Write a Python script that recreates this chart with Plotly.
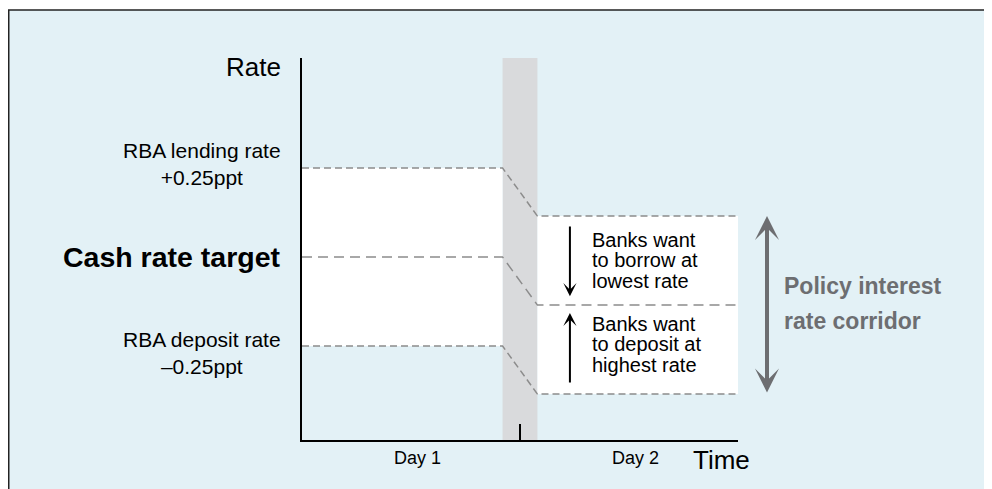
import plotly.graph_objects as go

# ---- data (schematic units: ppt relative to day-1 cash rate target) ----
level_names = ["RBA lending rate", "Cash rate target", "RBA deposit rate"]
day1_levels = [0.25, 0.0, -0.25]
day2_levels = [0.115, -0.135, -0.385]
time_points = [0.0, 0.92, 1.08, 2.0]      # day1 start, band start, band end, day2 end
day_boundary = [1.0]
day_label_x = [0.53, 1.53]
day_labels = ["Day 1", "Day 2"]
y_range = [-0.514, 0.559]
x_range = [0.0, 2.0]

# ---- style ----
BG = "#e3f1f6"
BAND = "#d9dadc"
DASH = "#8c8c8c"
GREYTXT = "#6d6e71"
FONT = "Liberation Sans, Arial, Helvetica, sans-serif"
W, H = 984, 481
ML, MR, MT, MB = 294, 254, 50, 49
PW, PH = W - ML - MR, H - MT - MB


def px2paper_x(px):
    return (px - ML) / PW


def px2paper_y(py):
    return (H - MB - py) / PH


fig = go.Figure()

dashes = ["7px,4px", "10px,6px", "7px,4px"]
for name, d1, d2, dsh in zip(level_names, day1_levels, day2_levels, dashes):
    fig.add_trace(go.Scatter(
        x=time_points, y=[d1, d1, d2, d2], mode="lines", name=name,
        line=dict(color=DASH, width=1.5, dash=dsh), hoverinfo="skip",
        showlegend=False))

shapes = [
    # white strip above the panel
    dict(type="rect", xref="paper", yref="paper", layer="below",
         x0=px2paper_x(-5), x1=px2paper_x(W + 5), y0=px2paper_y(2), y1=px2paper_y(-5),
         fillcolor="white", line=dict(width=0)),
    # panel border (top and left)
    dict(type="line", xref="paper", yref="paper", layer="below",
         x0=px2paper_x(0), x1=px2paper_x(W + 5), y0=px2paper_y(2), y1=px2paper_y(2),
         line=dict(color="#222222", width=1.5)),
    dict(type="line", xref="paper", yref="paper", layer="below",
         x0=px2paper_x(0.75), x1=px2paper_x(0.75), y0=px2paper_y(2), y1=px2paper_y(H + 5),
         line=dict(color="#222222", width=1.5)),
    # white corridor areas
    dict(type="rect", xref="x", yref="y", layer="below",
         x0=time_points[0], x1=time_points[1], y0=day1_levels[2], y1=day1_levels[0],
         fillcolor="white", line=dict(width=0)),
    dict(type="rect", xref="x", yref="y", layer="below",
         x0=time_points[2], x1=time_points[3], y0=day2_levels[2], y1=day2_levels[0],
         fillcolor="white", line=dict(width=0)),
    # overnight band
    dict(type="rect", xref="x", yref="paper", layer="below",
         x0=time_points[1], x1=time_points[2], y0=0, y1=1,
         fillcolor=BAND, line=dict(width=0)),
]

ann = []
txt = dict(family=FONT, color="black")
ann.append(dict(text="Rate", xref="x", yref="paper", x=0, y=1, xanchor="right",
                yanchor="middle", xshift=-19, yshift=-9, showarrow=False,
                font=dict(size=26, **txt)))
ann.append(dict(text="Time", xref="x", yref="paper", x=x_range[1], y=0,
                xanchor="right", yanchor="middle", xshift=14, yshift=-20,
                showarrow=False, font=dict(size=26, **txt)))
ann.append(dict(text="RBA lending rate<br>+0.25ppt", xref="x", yref="y", x=0,
                y=0.26, xanchor="right", yanchor="middle", xshift=-19,
                align="center", showarrow=False, font=dict(size=21, **txt)))
ann.append(dict(text="<b>Cash rate target</b>", xref="x", yref="y", x=0,
                y=day1_levels[1], xanchor="right", yanchor="middle", xshift=-19,
                showarrow=False, font=dict(size=28.5, **txt)))
ann.append(dict(text="RBA deposit rate<br>\u20130.25ppt", xref="x", yref="y", x=0,
                y=-0.27, xanchor="right", yanchor="middle", xshift=-19,
                align="center", showarrow=False, font=dict(size=21, **txt)))

bank_lines = [("Banks want", 0.048), ("to borrow at", -0.008), ("lowest rate", -0.067),
              ("Banks want", -0.188), ("to deposit at", -0.244), ("highest rate", -0.303)]
for t, yv in bank_lines:
    ann.append(dict(text=t, xref="x", yref="y", x=1.32, y=yv, xanchor="left",
                    yanchor="middle", showarrow=False, font=dict(size=20, **txt)))

# small black arrows
ann.append(dict(text="", xref="x", yref="y", axref="x", ayref="y",
                x=1.229, y=-0.11, ax=1.229, ay=0.09, showarrow=True,
                arrowhead=3, arrowsize=1.1, arrowwidth=2, arrowcolor="black", standoff=0))
ann.append(dict(text="", xref="x", yref="y", axref="x", ayref="y",
                x=1.229, y=-0.157, ax=1.229, ay=-0.357, showarrow=True,
                arrowhead=3, arrowsize=1.1, arrowwidth=2, arrowcolor="black", standoff=0))
# grey corridor double arrow (outside the axis range -> paper x)
ann.append(dict(text="", xref="paper", yref="y", axref="pixel", ayref="y",
                x=px2paper_x(759), y=day2_levels[0], ax=0, ay=day2_levels[2], showarrow=True,
                arrowhead=3, startarrowhead=3, arrowside="end+start", arrowsize=1.0,
                startarrowsize=1.0, arrowwidth=4, arrowcolor=GREYTXT,
                standoff=0, startstandoff=0))
ann.append(dict(text="<b>Policy interest</b>", xref="paper", yref="y", x=px2paper_x(774),
                y=-0.081, xanchor="left", yanchor="middle", showarrow=False,
                font=dict(size=23, family=FONT, color=GREYTXT)))
ann.append(dict(text="<b>rate corridor</b>", xref="paper", yref="y", x=px2paper_x(774),
                y=-0.18, xanchor="left", yanchor="middle", showarrow=False,
                font=dict(size=23, family=FONT, color=GREYTXT)))

fig.update_layout(
    width=W, height=H,
    margin=dict(l=ML, r=MR, t=MT, b=MB, pad=0),
    paper_bgcolor=BG,
    plot_bgcolor="rgba(0,0,0,0)",
    shapes=shapes,
    annotations=ann,
    showlegend=False,
    xaxis=dict(range=x_range, showgrid=False, zeroline=False, showline=True,
               linecolor="black", linewidth=2, tickvals=day_label_x,
               ticktext=day_labels, ticks="", tickfont=dict(size=18, family=FONT, color="black"),
               minor=dict(tickvals=day_boundary, ticks="inside", ticklen=16,
                          tickwidth=1.5, tickcolor="black", showgrid=False),
               fixedrange=True),
    yaxis=dict(range=y_range, showgrid=False, zeroline=False, showline=True,
               linecolor="black", linewidth=2, showticklabels=False, ticks="",
               fixedrange=True),
)

fig.write_html("out.html")
